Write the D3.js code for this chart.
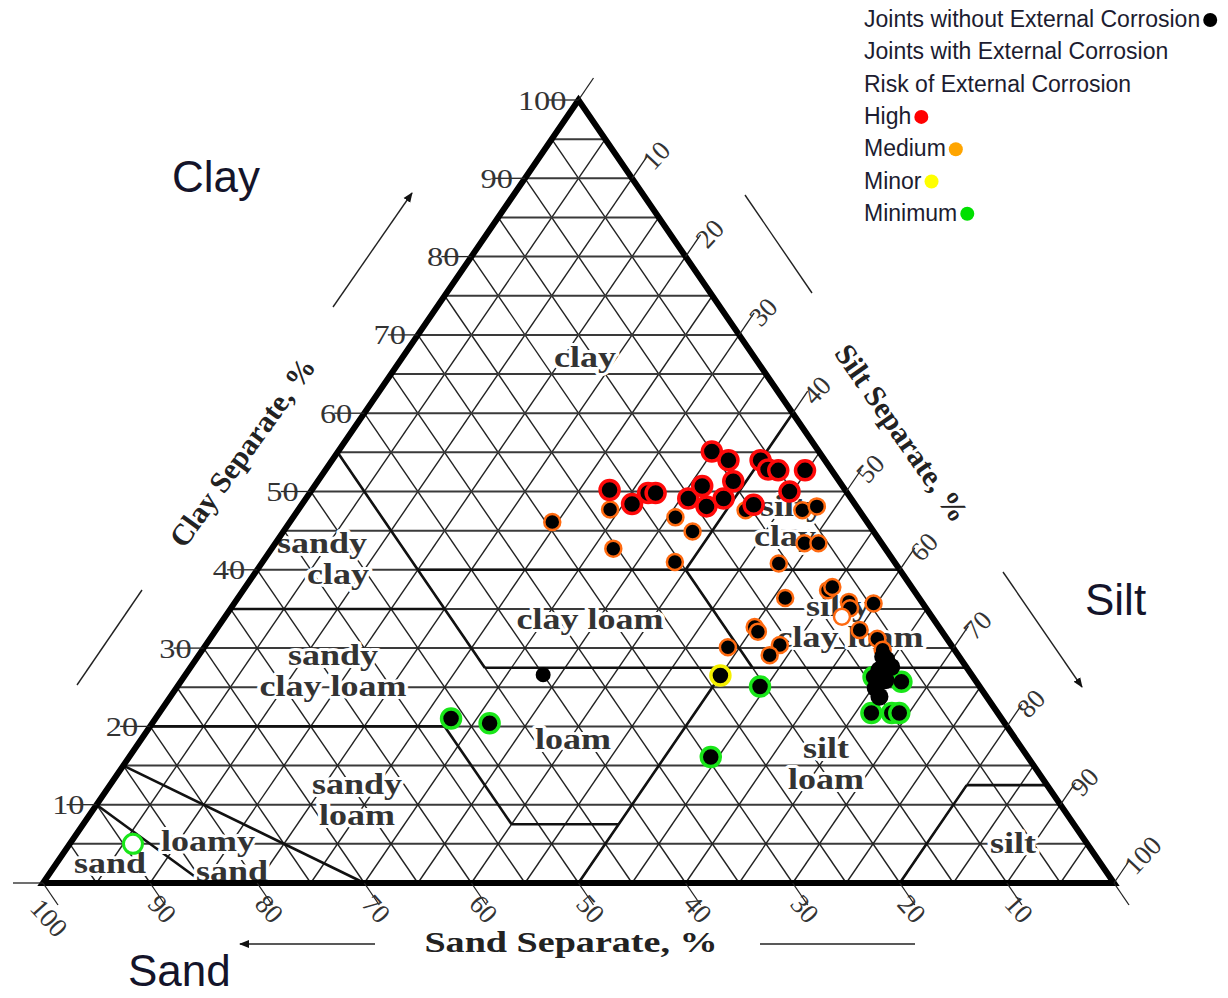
<!DOCTYPE html>
<html>
<head>
<meta charset="utf-8">
<script src="https://cdn.jsdelivr.net/npm/d3@7"></script>
<style>
  html, body { margin: 0; padding: 0; background: #fff; }
  svg { display: block; }
</style>
</head>
<body>
<svg id="chart" width="1228" height="998"></svg>
<script>
// ---- Soil samples as [sand %, silt %, clay %] ----
const riskHigh = [
  [10.0,34.9,55.1],[9.0,37.0,54.0],[22.0,27.8,50.2],[20.8,30.8,48.4],[18.6,31.6,49.8],
  [17.9,32.3,49.8],[15.2,35.7,49.1],[13.1,36.2,50.7],[14.0,37.9,48.1],[11.9,39.0,49.1],
  [9.9,38.8,51.3],[6.0,40.0,54.0],[5.9,41.3,52.8],[5.0,42.3,52.7],[2.5,44.8,52.7],
  [5.3,44.7,50.0],[9.5,42.2,48.3]
];
const riskMedium = [
  [23.2,29.1,47.7],[17.6,35.7,46.7],[16.9,38.2,44.9],[25.4,31.9,42.7],[20.5,38.5,41.0],
  [10.6,41.8,47.6],[5.3,47.1,47.6],[3.7,48.2,48.1],[7.2,49.4,43.4],[5.9,50.7,43.4],
  [10.9,48.3,40.8],[29.4,24.5,46.1],[12.5,51.1,36.4],[8.0,54.6,37.4],[7.4,54.8,37.8],
  [6.8,57.3,35.9],[7.1,57.8,35.1],[4.6,59.7,35.7],[17.2,50.1,32.7],[17.2,50.7,32.1],
  [16.0,53.6,30.4],[17.6,53.3,29.1],[21.0,48.9,30.1],[7.6,60.1,32.3],[6.5,62.3,31.2],
  [6.7,63.5,29.8]
];
const riskMediumOpen = [[8.4,57.6,34.0]];
const riskMinor = [[23.5,50.0,26.5]];
const riskMinimum = [
  [9.3,64.4,26.3],[7.0,67.3,25.7],[11.8,66.5,21.7],[9.9,68.4,21.7],[9.2,69.1,21.7],
  [20.5,54.4,25.1],[51.4,27.6,21.0],[48.1,31.5,20.4],[29.6,54.3,16.1]
];
const riskMinimumOpen = [[89.1,5.9,5.0]];
const noCorrosion = [
  [7.1,64.0,28.9],[7.0,64.5,28.5],[7.0,65.4,27.6],[8.3,64.5,27.2],[8.4,65.7,25.9],
  [9.8,65.3,24.9],[10.0,66.2,23.8]
];
const noCorrosionSmall = [[40.0,33.4,26.6]];

// Axis tick values
const tickValues = [10,20,30,40,50,60,70,80,90,100];
const sandTickValues = [100,90,80,70,60,50,40,30,20,10];

// USDA texture-class boundaries as pairs of [silt, clay] end points
const boundaries = [
  [[15,40],[60,40]],
  [[0,55],[27.5,27.5]],
  [[0,35],[20,35]],
  [[40,60],[40,40]],
  [[40,40],[52.5,27.5]],
  [[27.5,27.5],[72.5,27.5]],
  [[0,20],[27.5,20]],
  [[27.5,20],[40,7.5]],
  [[40,7.5],[50,7.5]],
  [[50,27.5],[50,0]],
  [[80,12.5],[87.5,12.5]],
  [[80,12.5],[80,0]],
  [[0,15],[30,0]],
  [[0,10],[15,0]]
];

// Legend entries
const legendItems = [
  ["Joints without External Corrosion", "#000000"],
  ["Joints with External Corrosion", null],
  ["Risk of External Corrosion", null],
  ["High", "#ff0000"],
  ["Medium", "#ffa500"],
  ["Minor", "#ffff00"],
  ["Minimum", "#00e000"]
];

// ---- Scales ----
const svg = d3.select("#chart");
const xScale = d3.scaleLinear().domain([0, 100]).range([43, 1114]);   // silt + clay/2
const yScale = d3.scaleLinear().domain([0, 100]).range([883, 100]);   // clay
const pos = (silt, clay) => [xScale(silt + clay / 2), yScale(clay)];
const line = d3.line();

// ---- 5 % triangular grid ----
const gridSteps = d3.range(5, 100, 5);
const grid = svg.append("g").attr("fill", "none");
gridSteps.forEach(k => {
  grid.append("path").attr("d", line([pos(0, k), pos(100 - k, k)]))
    .attr("stroke", "#3a3a3a").attr("stroke-width", 2);
  grid.append("path").attr("d", line([pos(100 - k, 0), pos(0, 100 - k)]))
    .attr("stroke", "#222").attr("stroke-width", 1.4);
  grid.append("path").attr("d", line([pos(k, 0), pos(k, 100 - k)]))
    .attr("stroke", "#222").attr("stroke-width", 1.4);
});

// ---- Texture-class boundaries ----
svg.append("g").selectAll("path").data(boundaries).join("path")
  .attr("d", d => line(d.map(p => pos(p[0], p[1]))))
  .attr("fill", "none").attr("stroke", "#111").attr("stroke-width", 2.6);

// ---- Texture-class names ----
const classLabels = [
  ["clay", 585, 357], ["silty", 792, 506], ["clay", 785, 536],
  ["sandy", 322, 543], ["clay", 338, 574], ["clay loam", 590, 619],
  ["silty", 838, 606], ["clay loam", 850, 637], ["sandy", 333, 655],
  ["clay loam", 333, 686], ["loam", 573, 739], ["silt", 826, 748],
  ["loam", 826, 779], ["sandy", 357, 784], ["loam", 357, 815],
  ["loamy", 208, 841], ["sand", 232, 871], ["sand", 110, 863],
  ["silt", 1013, 843]
];
svg.append("g").selectAll("text").data(classLabels).join("text")
  .attr("transform", d => `translate(${d[1]},${d[2]}) scale(1.2,1)`)
  .attr("text-anchor", "middle").attr("dominant-baseline", "central")
  .attr("font-family", "Liberation Serif, serif").attr("font-weight", "bold")
  .attr("font-size", 30).attr("fill", "#333")
  .attr("stroke", "#fff").attr("stroke-width", 6).attr("paint-order", "stroke")
  .attr("stroke-linejoin", "round")
  .text(d => d[0]);

// ---- Outer triangle ----
svg.append("path")
  .attr("d", line([pos(0, 100), pos(0, 0), pos(100, 0)]) + "Z")
  .attr("fill", "none").attr("stroke", "#000").attr("stroke-width", 6)
  .attr("stroke-linejoin", "miter");

// ---- Ticks and tick labels ----
const ticks = svg.append("g").attr("stroke", "#222").attr("stroke-width", 1.3);
const tickText = svg.append("g")
  .attr("font-family", "Liberation Serif, serif").attr("font-size", 27).attr("fill", "#333");

// clay (left edge)
[0, ...tickValues].forEach(k => {
  const [x, y] = pos(0, k);
  ticks.append("line").attr("x1", x).attr("y1", y).attr("x2", x - 30).attr("y2", y);
  if (k > 0) {
    tickText.append("text")
      .attr("transform", `translate(${x - 12},${y}) scale(1.2,1)`)
      .attr("text-anchor", "end").attr("dominant-baseline", "central").text(k);
  }
});
// silt (right edge)
[0, ...tickValues].forEach(k => {
  const [x, y] = pos(k, 100 - k);
  ticks.append("line").attr("x1", x).attr("y1", y).attr("x2", x + 15).attr("y2", y - 22);
  if (k > 0) {
    tickText.append("text")
      .attr("transform", `translate(${x + 15},${y - 13}) rotate(-47)`)
      .attr("dominant-baseline", "central").text(k);
  }
});
// sand (bottom edge)
[0, ...sandTickValues].forEach(k => {
  const [x, y] = pos(100 - k, 0);
  ticks.append("line").attr("x1", x).attr("y1", y).attr("x2", x + 15).attr("y2", y + 22);
  if (k > 0) {
    const wide = k === 100;
    tickText.append("text")
      .attr("transform", `translate(${x + (wide ? 6 : 12)},${y + (wide ? 35 : 26)}) rotate(48)`)
      .attr("text-anchor", "middle").attr("dominant-baseline", "central").text(k);
  }
});

// ---- Axis titles ----
const titles = svg.append("g")
  .attr("font-family", "Liberation Serif, serif").attr("font-weight", "bold")
  .attr("font-size", 30).attr("fill", "#222").attr("text-anchor", "middle")
  .attr("dominant-baseline", "central");
titles.append("text").attr("transform", "translate(242,452) rotate(-54)").text("Clay Separate, %");
titles.append("text").attr("transform", "translate(902,433) rotate(55)").text("Silt Separate, %");
titles.append("text").attr("transform", "translate(571,942) scale(1.27,1)").text("Sand Separate, %");

// ---- Direction arrows ----
svg.append("defs").append("marker")
  .attr("id", "head").attr("viewBox", "0 0 10 10").attr("refX", 9).attr("refY", 5)
  .attr("markerWidth", 10).attr("markerHeight", 10).attr("orient", "auto")
  .attr("markerUnits", "userSpaceOnUse")
  .append("path").attr("d", "M0,1 L10,5 L0,9 Z").attr("fill", "#111");
const arrows = [
  [[333, 307], [412, 193], true],
  [[77, 685], [142, 590], false],
  [[745, 195], [812, 293], false],
  [[1003, 572], [1082, 687], true],
  [[375, 944], [240, 944], true],
  [[760, 944], [915, 944], false]
];
svg.append("g").selectAll("path").data(arrows).join("path")
  .attr("d", d => line([d[0], d[1]]))
  .attr("stroke", "#222").attr("stroke-width", 1.4).attr("fill", "none")
  .attr("marker-end", d => d[2] ? "url(#head)" : null);

// ---- Samples ----
const pts = svg.append("g");
function drawSet(data, opts) {
  pts.append("g").selectAll("circle").data(data).join("circle")
    .attr("cx", d => pos(d[1], d[2])[0])
    .attr("cy", d => pos(d[1], d[2])[1])
    .attr("r", opts.r)
    .attr("fill", opts.fill)
    .attr("stroke", opts.stroke || "none")
    .attr("stroke-width", opts.sw || 0);
}
drawSet(riskMinimum, { r: 9.5, fill: "#000", stroke: "#19e619", sw: 3.5 });
drawSet(riskMinimumOpen, { r: 9.5, fill: "#fff", stroke: "#19e619", sw: 3 });
drawSet(riskMinor, { r: 9.5, fill: "#000", stroke: "#f5f000", sw: 3.5 });
drawSet(riskMedium, { r: 8, fill: "#000", stroke: "#ff6a10", sw: 2.5 });
drawSet(riskMediumOpen, { r: 8, fill: "#fff", stroke: "#ff6a10", sw: 2.5 });
drawSet(riskHigh, { r: 9.5, fill: "#000", stroke: "#ff0a0a", sw: 3.5 });
drawSet(noCorrosion, { r: 9, fill: "#000" });
drawSet(noCorrosionSmall, { r: 7.5, fill: "#000" });

// ---- Legend ----
const legend = svg.append("g")
  .attr("font-family", "Liberation Sans, Arial, sans-serif").attr("font-size", 23)
  .attr("fill", "#1c1c30");
legendItems.forEach((item, i) => {
  const y = 19 + i * 32.3;
  const t = legend.append("text").attr("x", 864).attr("y", y)
    .attr("dominant-baseline", "central").text(item[0]);
  if (item[1]) {
    const w = t.node().getComputedTextLength();
    legend.append("circle").attr("cx", 864 + w + 10).attr("cy", y + 1).attr("r", 7)
      .attr("fill", item[1]);
  }
});

// ---- Component names ----
const names = svg.append("g")
  .attr("font-family", "Liberation Sans, Arial, sans-serif").attr("font-size", 44)
  .attr("fill", "#14142a");
names.append("text").attr("x", 172).attr("y", 192).text("Clay");
names.append("text").attr("x", 1085).attr("y", 615).text("Silt");
names.append("text").attr("x", 128).attr("y", 986).text("Sand");
</script>
</body>
</html>
